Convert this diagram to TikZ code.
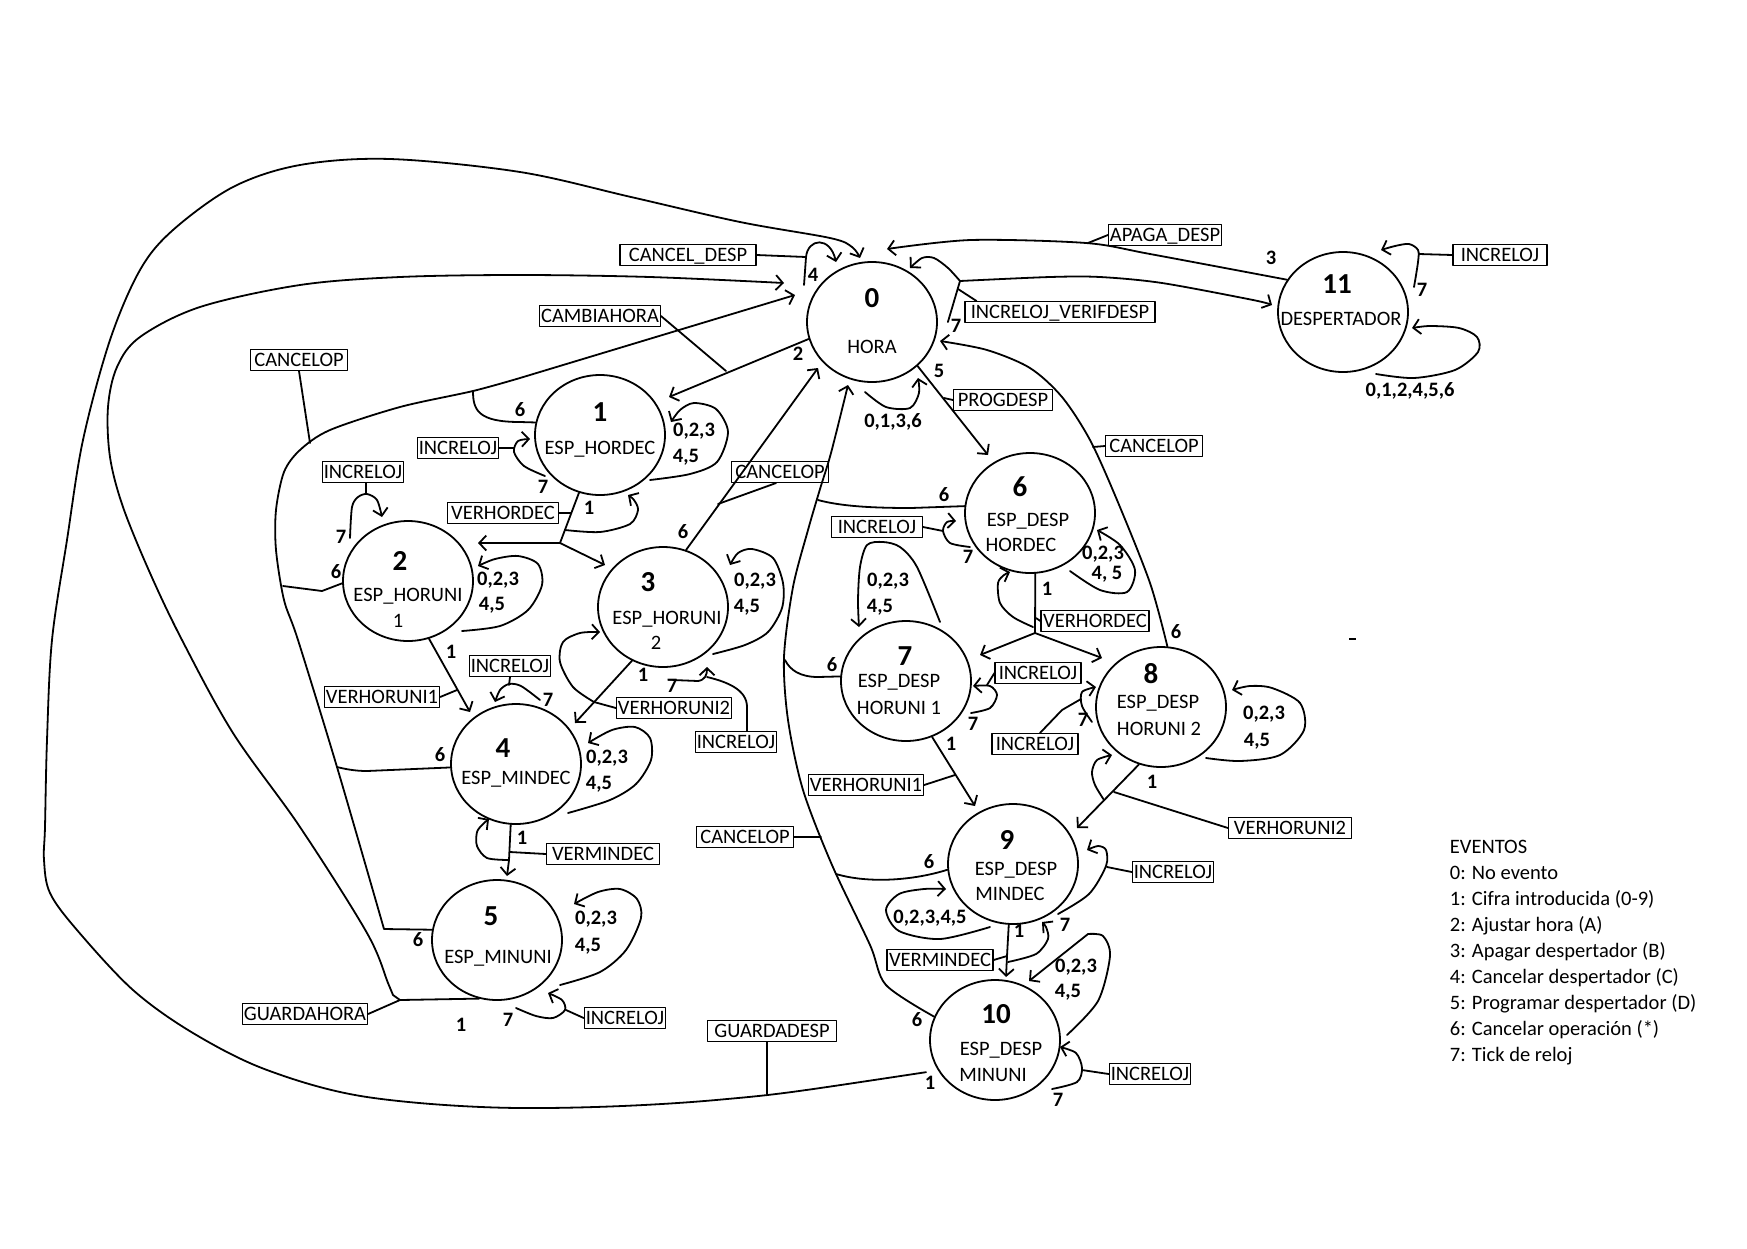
\documentclass[tikz,border=0pt]{standalone}
\usepackage{fontspec}
\setmainfont{Carlito}
\usetikzlibrary{shapes.geometric,arrows.meta}
\begin{document}
\begin{tikzpicture}[x=1pt,y=-1pt,
  line width=1.8pt, line cap=round, line join=round,
  state/.style={ellipse, draw, line width=1.8pt, minimum width=130pt, minimum height=120pt, inner sep=0pt},
  num/.style={font=\fontsize{29}{30}\selectfont\bfseries, text height=19pt, text depth=0pt, inner sep=0pt},
  sub/.style={font=\fontsize{20.5}{22}\selectfont, text height=13pt, text depth=0pt, inner sep=0pt},
  ev/.style={font=\fontsize{20.5}{22}\selectfont\bfseries, text height=13pt, text depth=0pt, inner sep=0pt},
  tag/.style={draw, line width=1.1pt, font=\fontsize{20.5}{22}\selectfont, text height=13pt, text depth=0pt, inner xsep=1.5pt, inner ysep=4pt},
  arr/.style={-{Straight Barb[length=7pt,width=15pt]}},
]
\useasboundingbox (0,0) rectangle (1747,1248);

% ---------------- states ----------------
\node[state] (s0)  at (872,322)  {};
\node[state] (s1)  at (600,435)  {};
\node[state] (s2)  at (408,581)  {};
\node[state] (s3)  at (663,607)  {};
\node[state] (s4)  at (516,764)  {};
\node[state] (s5)  at (497,940)  {};
\node[state] (s6)  at (1030,513) {};
\node[state] (s7)  at (906,681)  {};
\node[state] (s8)  at (1161,707) {};
\node[state] (s9)  at (1013,864) {};
\node[state] (s10) at (995,1040) {};
\node[state] (s11) at (1343,312) {};

\node[num] (s0n) at (872,298) {0};   \node[sub] (s0t) at (872,347) {HORA};
\node[num] (s1n) at (600,412) {1};   \node[sub] (s1t) at (600,448) {ESP\_HORDEC};
\node[num] (s2n) at (400,561) {2};   \node[sub] (s2t) at (408,595) {ESP\_HORUNI}; \node[sub] (s2u) at (398,621) {1};
\node[num] (s3n) at (648,582) {3};   \node[sub] (s3t) at (667,618) {ESP\_HORUNI}; \node[sub] (s3u) at (656,643) {2};
\node[num] (s4n) at (503,748) {4};   \node[sub] (s4t) at (516,778) {ESP\_MINDEC};
\node[num] (s5n) at (491,916) {5};   \node[sub] (s5t) at (498,957) {ESP\_MINUNI};
\node[num] (s6n) at (1020,487) {6};  \node[sub] (s6t) at (1028,520) {ESP\_DESP}; \node[sub] (s6u) at (1021,545) {HORDEC};
\node[num] (s7n) at (905,656) {7};   \node[sub] (s7t) at (899,681) {ESP\_DESP};  \node[sub] (s7u) at (899,708) {HORUNI 1};
\node[num] (s8n) at (1151,674) {8};  \node[sub] (s8t) at (1158,702) {ESP\_DESP}; \node[sub] (s8u) at (1159,729) {HORUNI 2};
\node[num] (s9n) at (1007,840) {9};  \node[sub] (s9t) at (1016,869) {ESP\_DESP}; \node[sub] (s9u) at (1010,894) {MINDEC};
\node[num] (s10n) at (996,1014) {10}; \node[sub] (s10t) at (1001,1049) {ESP\_DESP}; \node[sub] (s10u) at (993,1075) {MINUNI};
\node[num] (s11n) at (1337,284) {11}; \node[sub] (s11t) at (1341,319) {DESPERTADOR};

% ---------------- action boxes ----------------
\node[tag, minimum width=136pt] (bCD) at (688,255) {CANCEL\_DESP};
\node[tag] (bCH) at (600,316) {CAMBIAHORA};
\node[tag, minimum width=97pt] (bCL1) at (299,360) {CANCELOP};
\node[tag] (bI1) at (458,448) {INCRELOJ};
\node[tag] (bI2) at (363,472) {INCRELOJ};
\node[tag, minimum width=111pt] (bVD1) at (503,513) {VERHORDEC};
\node[tag, minimum width=97pt] (bCU) at (780,472) {CANCELOP};
\node[tag] (bVU1) at (382,697) {VERHORUNI1};
\node[tag] (bI4) at (510,666) {INCRELOJ};
\node[tag] (bVU2) at (674,708) {VERHORUNI2};
\node[tag] (bI3) at (736,742) {INCRELOJ};
\node[tag, minimum width=113pt] (bVM1) at (603,854) {VERMINDEC};
\node[tag] (bI5) at (625,1018) {INCRELOJ};
\node[tag] (bGH) at (305,1014) {GUARDAHORA};
\node[tag, minimum width=129pt] (bGD) at (772,1031) {GUARDADESP};
\node[tag] (bAD) at (1165,235) {APAGA\_DESP};
\node[tag, minimum width=190pt] (bIV) at (1060,312) {INCRELOJ\_VERIFDESP};
\node[tag, minimum width=94pt] (bI11) at (1500,255) {INCRELOJ};
\node[tag, minimum width=99pt] (bPD) at (1003,400) {PROGDESP};
\node[tag, minimum width=97pt] (bCR) at (1154,446) {CANCELOP};
\node[tag, minimum width=91pt] (bI6) at (877,527) {INCRELOJ};
\node[tag, minimum width=108pt] (bVD2) at (1095,621) {VERHORDEC};
\node[tag, minimum width=86pt] (bI7) at (1038,673) {INCRELOJ};
\node[tag, minimum width=86pt] (bI8) at (1035,744) {INCRELOJ};
\node[tag] (bVU1b) at (866,785) {VERHORUNI1};
\node[tag, minimum width=123pt] (bVU2b) at (1290,828) {VERHORUNI2};
\node[tag, minimum width=97pt] (bCM) at (745,837) {CANCELOP};
\node[tag] (bI9) at (1173,872) {INCRELOJ};
\node[tag, minimum width=106pt] (bVM2) at (940,960) {VERMINDEC};
\node[tag] (bI10) at (1150,1074) {INCRELOJ};

% ---------------- junctions ----------------
\coordinate (jGH) at (400,1000);
\coordinate (j0) at (960,281);
\coordinate (j1) at (560,543);
\coordinate (j3) at (594,702);
\coordinate (j4) at (509,860);
\coordinate (j6) at (1035,633);
\coordinate (j9) at (1007,956);

% ---------------- long returns to HORA ----------------
% 10 -> 0 on 1 (GUARDADESP), outer route
\draw[arr, shorten <=12pt] plot[smooth, tension=0.55] coordinates {(s10.208) (716,1100) (520,1108) (367,1097) (267,1070) (193,1033) (133,990) (77,930) (50,893) (44,860) (45,827) (47,740) (52,640) (67,540) (83,440) (110,340) (140,270) (173,230) (233,187) (300,165) (390,159) (520,172) (631,197) (740,222) (830,238) (852,247) (860,258)};
\draw ([xshift=-5pt]bGD.south) -- (767,1094);

% 5 -> 0 on 1 (GUARDAHORA)
\draw[arr] (s5.253) -- (jGH) -- plot[smooth, tension=0.55] coordinates {(393,995) (388,983) (367,933) (300,827) (233,733) (182,640) (150,573) (123,507) (110,457) (108,407) (117,367) (140,337) (200,307) (300,285) (400,277) (520,275) (650,277) (784,283)};
\draw (bGH.east) -- (jGH);

% 1,2,4,5 -> 0 on 6 (CANCELOP)
\draw[arr] (s5.171) -- plot[smooth, tension=0.5] coordinates {(384,929) (337,767) (298,640) (284,600) (276,550) (276,510) (284,472) (300,450) (330,430) (400,407) (473,391) (520,378)} -- (795,295);
\draw (s1.169) -- (520,422) .. controls (478,422) and (473,410) .. (473,391);
\draw (s2.182) -- (322,591) -- (283,586);
\draw (s4.183) -- (367,771) .. controls (355,771) and (345,769) .. (337,767);
\draw (bCL1.south) -- (310,443);

% 0 -> 1 on 2 (CAMBIAHORA)
\draw[arr] (s0.195) -- (669,397);
\draw (bCH.east) -- (726,371);

% 0 on 4 (CANCEL_DESP)
\draw[arr] (804,285) -- (806,257) .. controls (808,238) and (830,236) .. (836,262);
\draw (bCD.east) -- (806,257);

% 11 -> 0 on 3 (APAGA_DESP)
\draw[arr] plot[smooth] coordinates {(s11.150) (1150,254) (1086,243) (971,240) (887,249)};
\draw (bAD.west) -- (1088,243);

% 0 on 7 (INCRELOJ_VERIFDESP), to 0 or 11
\draw ([xshift=10pt]s0.east) -- (j0);
\draw[arr] plot[smooth] coordinates {(j0) (948,268) (934,258) (922,258) (910,268)};
\draw[arr] plot[smooth] coordinates {(j0) (1050,277) (1100,277) (1162,283) (1253,300) (1272,305)};
\draw ([xshift=12pt]bIV.north west) -- (958,289);

% 0 on 0,1,3,6
\draw[arr] plot[smooth] coordinates {(865,392) (886,407) (910,408) (919,393) (918,378)};

% 0 -> 6 on 5 (PROGDESP)
\draw[arr] (s0.-44) -- (988,455);
\draw (bPD.west) -- (944,398);

% 8 -> 0 on 6 (CANCELOP)
\draw[arr] plot[smooth] coordinates {(s8.84) (1150,583) (1117,500) (1090,440) (1062,397) (1030,368) (987,350) (940,341)};
\draw (bCR.west) -- (1093,447);

% 6,7,9,10 -> 0 on 6 (CANCELOP)
\draw[arr] plot[smooth] coordinates {(s10.159) (886,985) (870,945) (832,865) (803,790) (788,720) (784,657) (793,587) (808,530) (820,489) (831,453) (848,385)};
\draw (s7.176) -- (818,677) .. controls (800,677) and (790,670) .. (785,660);
\draw (s9.185) .. controls (915,880) and (870,884) .. (836,874);
\draw (s6.174) -- (911,508) .. controls (870,508) and (840,506) .. (818,500);
\draw (bCM.east) -- (821,837);

% 3 -> 0 on 6 (CANCELOP)
\draw[arr] (s3.68) -- (818,368);
\draw ([xshift=-4pt]bCU.south) -- (718,504);

% ---------------- state 1 ----------------
\draw[arr] plot[smooth] coordinates {(650,480) (690,474) (717,462) (728,432) (716,409) (694,403) (680,410) (671,422)};
\draw[arr] plot[smooth] coordinates {(545,476) (524,466) (514,452) (518,441) (530,439)};
\draw (bI1.east) -- (514,448);
\draw (s1.250) -- (j1);
\draw[arr] (j1) -- (478,543);
\draw[arr] (j1) -- (605,565);
\draw[arr] plot[smooth] coordinates {(565,530) (600,532) (630,524) (638,510) (634,500) (628,495)};
\draw (bVD1.east) -- (571,513);

% ---------------- state 2 ----------------
\draw[arr] plot[smooth] coordinates {(462,631) (500,626) (528,610) (542,585) (538,564) (518,556) (495,559) (478,566)};
\draw[arr] plot[smooth] coordinates {(350,538) (352,507) (358,497) (367,494) (377,500) (382,517)};
\draw ([xshift=3pt]bI2.south) -- (366,494);
\draw[arr] (s2.290) -- (470,712);
\draw (bVU1.east) -- (457,690);

% ---------------- state 3 ----------------
\draw[arr] plot[smooth] coordinates {(713,654) (745,645) (768,632) (782,608) (783,583) (773,558) (752,549) (738,553) (730,565)};
\draw[arr] (s3.240) -- (575,723);
\draw[arr] plot[smooth] coordinates {(j3) (573,687) (560,662) (563,642) (580,633) (600,632)};
\draw (bVU2.west) -- (j3);
\draw[arr] (673,680) -- (698,681) .. controls (705,680) and (707,675) .. (707,667);
\draw ([xshift=11pt]bI3.north) -- (747,707) .. controls (747,690) and (728,682) .. (707,677);

% ---------------- state 4 ----------------
\draw[arr] plot[smooth] coordinates {(540,700) (521,686) (509,684) (500,690) (495,702)};
\draw (bI4.south) -- (509,685);
\draw[arr] plot[smooth] coordinates {(568,813) (610,800) (636,784) (651,760) (650,738) (635,727) (612,730) (588,743)};
\draw (s4.265) -- (j4);
\draw[arr] (j4) -- (507,876);
\draw[arr] plot[smooth] coordinates {(j4) (487,858) (477,846) (477,832) (483,824) (489,819)};
\draw (bVM1.west) -- (510,852);

% ---------------- state 5 ----------------
\draw[arr] plot[smooth] coordinates {(560,985) (600,972) (626,950) (641,918) (637,899) (620,889) (598,892) (574,904)};
\draw[arr] plot[smooth] coordinates {(516,1008) (536,1016) (553,1018) (565,1010) (562,1000) (548,993)};
\draw (bI5.west) -- (566,1010);

% ---------------- state 6 ----------------
\draw[arr] plot[smooth] coordinates {(970,547) (950,543) (943,531) (947,522) (956,521)};
\draw (bI6.east) -- (943,531);
\draw[arr] plot[smooth] coordinates {(1070,571) (1100,590) (1127,592) (1135,570) (1120,545) (1097,530)};
\draw (s6.275) -- (j6);
\draw[arr] (j6) -- (980,655);
\draw[arr] (j6) -- (1102,658);
\draw[arr] plot[smooth] coordinates {(1033,627) (1013,617) (1000,603) (998,583) (1004,575) (1010,572)};
\draw (bVD2.west) -- (1036,618);

% ---------------- state 7 ----------------
\draw[arr] plot[smooth] coordinates {(940,622) (917,567) (900,547) (883,542) (867,545) (860,567) (858,600) (859,627)};
\draw[arr] plot[smooth] coordinates {(971,713) (990,708) (997,695) (990,686) (973,686)};
\draw (bI7.west) -- (987,685);
\draw[arr] (s7.295) -- (975,806);
\draw (bVU1b.east) -- (955,775);

% ---------------- state 8 ----------------
\draw[arr] plot[smooth] coordinates {(1206,758) (1240,761) (1280,755) (1304,730) (1300,703) (1272,688) (1250,686) (1232,690)};
\draw[arr] plot[smooth] coordinates {(1092,722) (1082,706) (1082,692) (1096,687)};
\draw ([xshift=5pt]bI8.north) -- (1062,710) -- (1081,699);
\draw[arr] (s8.249) -- (1077,828);
\draw[arr] plot[smooth] coordinates {(1104,800) (1095,785) (1092,772) (1097,760) (1112,755)};
\draw (bVU2b.west) -- (1114,792);

% ---------------- state 9 ----------------
\draw[arr] plot[smooth] coordinates {(990,927) (940,939) (899,931) (886,910) (899,894) (924,889) (946,889)};
\draw[arr] plot[smooth] coordinates {(1058,914) (1089,894) (1106,866) (1106,850) (1098,846) (1087,850)};
\draw (bI9.west) -- (1107,867);
\draw (s9.266) -- (j9);
\draw[arr] (j9) -- (1006,977);
\draw[arr] plot[smooth] coordinates {(1008,962) (1036,954) (1048,939) (1046,927) (1042,922)};
\draw (bVM2.east) -- (j9);

% ---------------- state 10 ----------------
\draw[arr] plot[smooth] coordinates {(1067,1035) (1098,1001) (1110,956) (1103,936) (1088,934)} -- (1029,981);
\draw[arr] plot[smooth] coordinates {(1052,1089) (1077,1082) (1082,1068) (1076,1053) (1060,1047)};
\draw (bI10.west) -- (1082,1070);

% ---------------- state 11 ----------------
\draw[arr] plot[smooth] coordinates {(1414,287) (1418,262) (1418,250) (1409,244) (1395,246) (1381,250)};
\draw (bI11.west) -- (1419,254);
\draw[arr] plot[smooth] coordinates {(1376,374) (1414,378) (1455,370) (1478,352) (1477,337) (1459,328) (1430,326) (1412,328)};

% stray mark
\draw[line width=1.5pt, line cap=butt] (1349,639) -- (1356,639);

% ---------------- event numbers ----------------
\node[ev] (e0a) at (813,275) {4};
\node[ev] (e0b) at (798,354) {2};
\node[ev] (e0c) at (956,326) {7};
\node[ev] (e0d) at (939,371) {5};
\node[ev] (e0e) at (893,421) {0,1,3,6};
\node[ev] (e11a) at (1271,258) {3};
\node[ev] (e11b) at (1422,290) {7};
\node[ev] (e11c) at (1410,390) {0,1,2,4,5,6};
\node[ev] (e1a) at (520,410) {6};
\node[ev] (e1b) at (694,430) {0,2,3};
\node[ev] (e1c) at (686,456) {4,5};
\node[ev] (e1d) at (543,487) {7};
\node[ev] (e1e) at (589,508) {1};
\node[ev] (e2a) at (341,537) {7};
\node[ev] (e2b) at (336,572) {6};
\node[ev] (e2c) at (498,579) {0,2,3};
\node[ev] (e2d) at (492,604) {4,5};
\node[ev] (e2e) at (451,652) {1};
\node[ev] (e3a) at (683,532) {6};
\node[ev] (e3b) at (755,580) {0,2,3};
\node[ev] (e3c) at (747,606) {4,5};
\node[ev] (e3d) at (643,675) {1};
\node[ev] (e3e) at (672,686) {7};
\node[ev] (e4a) at (548,700) {7};
\node[ev] (e4b) at (440,755) {6};
\node[ev] (e4c) at (607,757) {0,2,3};
\node[ev] (e4d) at (599,783) {4,5};
\node[ev] (e4e) at (522,838) {1};
\node[ev] (e5a) at (596,918) {0,2,3};
\node[ev] (e5b) at (588,945) {4,5};
\node[ev] (e5c) at (418,940) {6};
\node[ev] (e5d) at (461,1025) {1};
\node[ev] (e5e) at (508,1020) {7};
\node[ev] (e6a) at (944,495) {6};
\node[ev] (e6b) at (968,557) {7};
\node[ev] (e6c) at (1103,553) {0,2,3};
\node[ev] (e6d) at (1107,573) {4, 5};
\node[ev] (e6e) at (1047,589) {1};
\node[ev] (e7a) at (888,580) {0,2,3};
\node[ev] (e7b) at (880,606) {4,5};
\node[ev] (e7c) at (832,665) {6};
\node[ev] (e7d) at (973,724) {7};
\node[ev] (e7e) at (951,744) {1};
\node[ev] (e8a) at (1176,632) {6};
\node[ev] (e8b) at (1264,713) {0,2,3};
\node[ev] (e8c) at (1257,740) {4,5};
\node[ev] (e8d) at (1083,720) {7};
\node[ev] (e8e) at (1152,782) {1};
\node[ev] (e9a) at (929,862) {6};
\node[ev] (e9b) at (930,917) {0,2,3,4,5};
\node[ev] (e9c) at (1065,925) {7};
\node[ev] (e9d) at (1019,931) {1};
\node[ev] (e10a) at (1076,966) {0,2,3};
\node[ev] (e10b) at (1068,991) {4,5};
\node[ev] (e10c) at (917,1020) {6};
\node[ev] (e10d) at (1058,1100) {7};
\node[ev] (e10e) at (930,1083) {1};

% ---------------- legend ----------------
\node[sub, anchor=west] (lg0) at (1449,847)  {EVENTOS};
\node[sub, anchor=west] (lg1) at (1449,873)  {0: No evento};
\node[sub, anchor=west] (lg2) at (1449,899)  {1: Cifra introducida (0-9)};
\node[sub, anchor=west] (lg3) at (1449,925)  {2: Ajustar hora (A)};
\node[sub, anchor=west] (lg4) at (1449,951)  {3: Apagar despertador (B)};
\node[sub, anchor=west] (lg5) at (1449,977)  {4: Cancelar despertador (C)};
\node[sub, anchor=west] (lg6) at (1449,1003) {5: Programar despertador (D)};
\node[sub, anchor=west] (lg7) at (1449,1029) {6: Cancelar operación (*)};
\node[sub, anchor=west] (lg8) at (1449,1055) {7: Tick de reloj};
\end{tikzpicture}
\end{document}
